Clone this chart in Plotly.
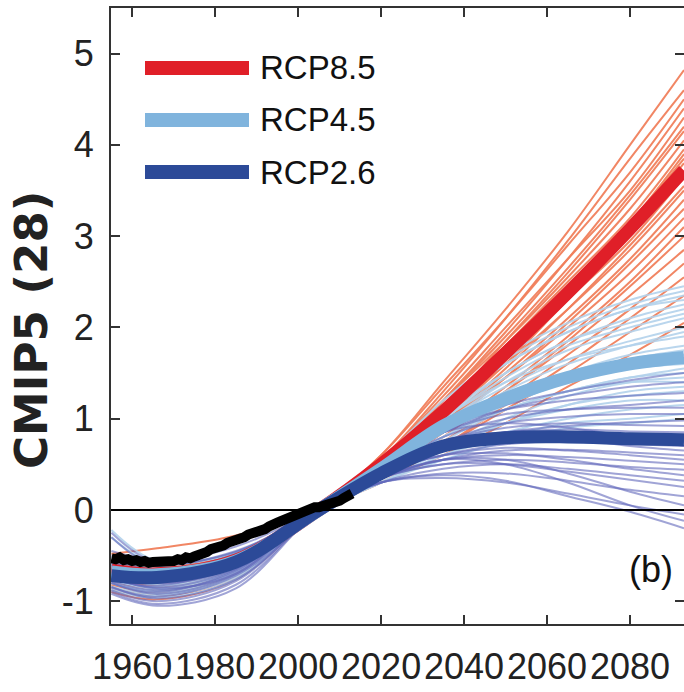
import plotly.graph_objects as go

# ---- time axes -------------------------------------------------------------
HIST_YEARS = [1955, 1966, 1985, 2005]
FUT_YEARS = [2020, 2035, 2050, 2065, 2080, 2093]

# ---- observed record (annual) ---------------------------------------------
OBS_YEARS = list(range(1955, 2014))
OBS_VALUES = [-0.53, -0.54, -0.52, -0.55, -0.54, -0.56, -0.55, -0.57, -0.56, -0.58,
              -0.57, -0.57, -0.56, -0.57, -0.55, -0.56, -0.54, -0.55, -0.52, -0.53,
              -0.51, -0.50, -0.47, -0.46, -0.43, -0.42, -0.40, -0.39, -0.36, -0.35,
              -0.33, -0.31, -0.30, -0.27, -0.26, -0.24, -0.22, -0.21, -0.18, -0.17,
              -0.14, -0.12, -0.10, -0.07, -0.05, -0.03, -0.01, 0.01, 0.02, 0.03,
              0.03, 0.04, 0.05, 0.06, 0.08, 0.10, 0.13, 0.15, 0.18]

# ---- ensemble means --------------------------------------------------------
MEAN85_HIST = [-0.66, -0.70, -0.55, 0.00]
MEAN85_FUT = [0.50, 1.08, 1.72, 2.38, 3.08, 3.72]
MEAN45_HIST = [-0.68, -0.71, -0.56, 0.00]
MEAN45_FUT = [0.45, 0.92, 1.22, 1.45, 1.60, 1.67]
MEAN26_HIST = [-0.72, -0.74, -0.57, 0.00]
MEAN26_FUT = [0.40, 0.70, 0.79, 0.80, 0.78, 0.77]

# ---- individual models: RCP8.5 --------------------------------------------
RCP85_HIST = [
    [-0.48, -0.42, -0.28, 0.02], [-0.60, -0.66, -0.50, 0.00], [-0.70, -0.75, -0.58, 0.02],
    [-0.55, -0.62, -0.48, -0.01], [-0.85, -0.92, -0.70, 0.01], [-0.65, -0.70, -0.55, 0.00],
    [-0.75, -0.82, -0.62, -0.02], [-0.62, -0.68, -0.52, 0.02], [-0.80, -0.88, -0.66, 0.00],
    [-0.58, -0.64, -0.50, 0.01], [-0.72, -0.78, -0.60, -0.01], [-0.68, -0.76, -0.58, 0.02],
    [-0.90, -0.98, -0.76, 0.00], [-0.64, -0.72, -0.56, 0.01], [-0.78, -0.85, -0.64, -0.02],
    [-0.70, -0.74, -0.56, 0.02], [-0.60, -0.70, -0.54, 0.00], [-0.82, -0.90, -0.70, 0.01],
    [-0.66, -0.72, -0.55, -0.01], [-0.74, -0.80, -0.62, 0.00], [-0.56, -0.62, -0.48, 0.02],
    [-0.88, -0.95, -0.74, -0.01], [-0.70, -0.78, -0.60, 0.00], [-0.62, -0.66, -0.50, 0.01],
    [-0.76, -0.84, -0.66, -0.02], [-0.66, -0.74, -0.58, 0.00],
]
RCP85_FUT = [
    [0.60, 1.40, 2.20, 3.05, 4.00, 4.82], [0.55, 1.30, 2.10, 2.95, 3.85, 4.60],
    [0.60, 1.35, 2.10, 2.90, 3.70, 4.50], [0.50, 1.20, 1.95, 2.75, 3.60, 4.40],
    [0.55, 1.25, 2.00, 2.75, 3.50, 4.30], [0.50, 1.20, 1.90, 2.65, 3.45, 4.20],
    [0.45, 1.10, 1.85, 2.60, 3.40, 4.15], [0.55, 1.20, 1.85, 2.55, 3.30, 4.05],
    [0.50, 1.10, 1.80, 2.50, 3.20, 3.95], [0.45, 1.05, 1.75, 2.45, 3.15, 3.90],
    [0.50, 1.15, 1.80, 2.45, 3.15, 3.85], [0.40, 1.00, 1.70, 2.40, 3.10, 3.80],
    [0.50, 1.10, 1.70, 2.35, 3.00, 3.70], [0.45, 1.00, 1.60, 2.30, 2.95, 3.65],
    [0.40, 0.95, 1.55, 2.20, 2.90, 3.55], [0.50, 1.05, 1.60, 2.20, 2.85, 3.50],
    [0.45, 0.95, 1.50, 2.10, 2.75, 3.40], [0.40, 0.90, 1.45, 2.05, 2.70, 3.30],
    [0.45, 0.95, 1.45, 2.00, 2.60, 3.20], [0.40, 0.85, 1.35, 1.90, 2.50, 3.10],
    [0.35, 0.80, 1.30, 1.85, 2.45, 3.00], [0.40, 0.85, 1.30, 1.80, 2.35, 2.85],
    [0.35, 0.75, 1.20, 1.70, 2.20, 2.70], [0.30, 0.70, 1.15, 1.60, 2.10, 2.55],
    [0.35, 0.70, 1.10, 1.50, 1.95, 2.35], [0.30, 0.60, 0.95, 1.35, 1.70, 2.05],
]

# ---- individual models: RCP4.5 --------------------------------------------
RCP45_HIST = [
    [-0.22, -0.56, -0.46, 0.02], [-0.62, -0.68, -0.52, 0.00], [-0.70, -0.78, -0.60, 0.01],
    [-0.55, -0.64, -0.50, -0.02], [-0.80, -0.90, -0.70, 0.01], [-0.66, -0.72, -0.56, 0.00],
    [-0.74, -0.80, -0.62, 0.02], [-0.60, -0.66, -0.52, -0.01], [-0.84, -0.92, -0.72, 0.00],
    [-0.58, -0.66, -0.50, 0.01], [-0.72, -0.76, -0.58, 0.00], [-0.68, -0.74, -0.58, 0.02],
    [-0.88, -0.96, -0.76, -0.01], [-0.64, -0.70, -0.56, 0.01], [-0.76, -0.86, -0.66, 0.00],
    [-0.30, -0.60, -0.50, 0.02], [-0.62, -0.72, -0.56, -0.01], [-0.80, -0.88, -0.68, 0.01],
    [-0.66, -0.74, -0.57, 0.00], [-0.72, -0.82, -0.64, 0.00], [-0.52, -0.60, -0.47, 0.02],
    [-0.86, -0.94, -0.74, -0.01], [-0.70, -0.76, -0.60, 0.01], [-0.60, -0.68, -0.52, 0.00],
    [-0.78, -0.84, -0.66, -0.02], [-0.68, -0.78, -0.60, 0.00],
]
RCP45_FUT = [
    [0.55, 1.20, 1.70, 2.05, 2.30, 2.45], [0.50, 1.15, 1.65, 2.00, 2.25, 2.40],
    [0.55, 1.10, 1.60, 1.95, 2.20, 2.35], [0.50, 1.10, 1.60, 1.95, 2.20, 2.30],
    [0.45, 1.00, 1.50, 1.85, 2.10, 2.25], [0.50, 1.05, 1.50, 1.85, 2.05, 2.20],
    [0.50, 1.00, 1.45, 1.80, 2.00, 2.15], [0.45, 0.95, 1.40, 1.75, 1.95, 2.10],
    [0.45, 0.95, 1.35, 1.65, 1.85, 2.00], [0.40, 0.90, 1.30, 1.60, 1.80, 1.95],
    [0.50, 1.00, 1.40, 1.65, 1.80, 1.90], [0.45, 0.90, 1.25, 1.50, 1.70, 1.80],
    [0.40, 0.85, 1.20, 1.45, 1.65, 1.75], [0.45, 0.90, 1.20, 1.45, 1.60, 1.70],
    [0.40, 0.80, 1.15, 1.40, 1.55, 1.65], [0.40, 0.85, 1.15, 1.40, 1.55, 1.60],
    [0.35, 0.75, 1.10, 1.30, 1.45, 1.55], [0.40, 0.80, 1.10, 1.30, 1.45, 1.50],
    [0.35, 0.70, 1.00, 1.25, 1.40, 1.45], [0.40, 0.80, 1.10, 1.30, 1.40, 1.40],
    [0.35, 0.70, 0.95, 1.15, 1.30, 1.35], [0.30, 0.65, 0.95, 1.15, 1.25, 1.30],
    [0.35, 0.70, 0.95, 1.10, 1.20, 1.20], [0.30, 0.60, 0.85, 1.00, 1.10, 1.15],
    [0.30, 0.60, 0.80, 0.95, 1.00, 1.05], [0.30, 0.55, 0.75, 0.90, 0.95, 1.00],
]

# ---- individual models: RCP2.6 --------------------------------------------
RCP26_HIST = [
    [-0.25, -0.58, -0.45, 0.02], [-0.30, -0.62, -0.50, -0.02], [-0.45, -0.55, -0.40, 0.03],
    [-0.55, -0.65, -0.50, 0.00], [-0.60, -0.70, -0.55, 0.02], [-0.65, -0.72, -0.58, -0.03],
    [-0.70, -0.78, -0.60, 0.01], [-0.72, -0.80, -0.62, 0.00], [-0.75, -0.85, -0.65, -0.02],
    [-0.78, -0.88, -0.68, 0.02], [-0.80, -0.92, -0.70, 0.00], [-0.85, -0.95, -0.72, -0.03],
    [-0.88, -1.00, -0.78, 0.01], [-0.90, -1.03, -0.82, -0.01], [-0.70, -0.75, -0.55, 0.03],
    [-0.62, -0.68, -0.52, -0.01], [-0.58, -0.66, -0.48, 0.02], [-0.80, -0.90, -0.66, 0.00],
    [-0.68, -0.80, -0.64, -0.02], [-0.50, -0.60, -0.46, 0.01], [-0.76, -0.83, -0.60, 0.02],
    [-0.84, -0.97, -0.76, -0.02], [-0.66, -0.76, -0.57, 0.00], [-0.73, -0.86, -0.70, 0.03],
    [-0.92, -1.05, -0.86, -0.01], [-0.56, -0.72, -0.58, 0.00],
]
RCP26_FUT = [
    [0.50, 0.90, 1.15, 1.30, 1.42, 1.50], [0.45, 0.85, 1.10, 1.25, 1.35, 1.40],
    [0.50, 0.90, 1.10, 1.20, 1.25, 1.28], [0.45, 0.80, 1.00, 1.10, 1.15, 1.20],
    [0.50, 0.85, 1.05, 1.10, 1.12, 1.12], [0.45, 0.75, 0.95, 1.02, 1.05, 1.05],
    [0.40, 0.70, 0.85, 0.92, 0.96, 0.98], [0.45, 0.75, 0.90, 0.95, 0.93, 0.92],
    [0.40, 0.70, 0.85, 0.88, 0.86, 0.85], [0.45, 0.75, 0.85, 0.85, 0.82, 0.80],
    [0.40, 0.65, 0.75, 0.78, 0.77, 0.75], [0.40, 0.60, 0.72, 0.75, 0.72, 0.70],
    [0.45, 0.70, 0.80, 0.78, 0.70, 0.65], [0.35, 0.55, 0.65, 0.66, 0.63, 0.60],
    [0.40, 0.60, 0.68, 0.65, 0.60, 0.55], [0.35, 0.55, 0.60, 0.58, 0.54, 0.50],
    [0.35, 0.50, 0.55, 0.52, 0.47, 0.44], [0.40, 0.60, 0.62, 0.55, 0.45, 0.38],
    [0.30, 0.45, 0.50, 0.45, 0.38, 0.32], [0.35, 0.50, 0.50, 0.42, 0.33, 0.25],
    [0.30, 0.40, 0.40, 0.32, 0.22, 0.15], [0.35, 0.55, 0.55, 0.40, 0.20, 0.05],
    [0.30, 0.35, 0.30, 0.18, 0.05, -0.05], [0.35, 0.55, 0.50, 0.30, 0.05, -0.12],
    [0.30, 0.38, 0.32, 0.15, -0.02, -0.20], [0.50, 0.85, 0.95, 0.90, 0.80, 0.70],
]

# ---- axis ticks and labels -------------------------------------------------
XTICK_VALS = [1960, 1980, 2000, 2020, 2040, 2060, 2080]
XTICK_TEXT = ["1960", "1980", "2000", "2020", "2040", "2060", "2080"]
YTICK_VALS = [-1, 0, 1, 2, 3, 4, 5]
YTICK_TEXT = ["-1", "0", "1", "2", "3", "4", "5"]

SCENARIO_NAMES = ["RCP8.5", "RCP4.5", "RCP2.6"]
SCENARIO_MEAN_COLORS = ["#E01F28", "#80B4DD", "#2C4A98"]
SCENARIO_THIN_COLORS = ["rgba(240,128,92,0.95)", "rgba(178,210,235,0.9)",
                        "rgba(96,104,186,0.6)"]

YEARS = HIST_YEARS + FUT_YEARS
X_RANGE = [1954.9, 2093.0]
Y_RANGE = [-1.25, 5.5]

TEXT_FONT = "Liberation Sans, Arial, sans-serif"

fig = go.Figure()

ensembles = [(RCP85_HIST, RCP85_FUT), (RCP45_HIST, RCP45_FUT), (RCP26_HIST, RCP26_FUT)]
for (hist, fut), color in zip(ensembles, SCENARIO_THIN_COLORS):
    for h, f in zip(hist, fut):
        fig.add_trace(go.Scatter(
            x=YEARS, y=h + f, mode="lines",
            line=dict(color=color, width=2, shape="spline", smoothing=1.0),
            hoverinfo="skip", showlegend=False))

means = [(MEAN85_HIST, MEAN85_FUT), (MEAN45_HIST, MEAN45_FUT), (MEAN26_HIST, MEAN26_FUT)]
for (h, f), color, name in zip(means, SCENARIO_MEAN_COLORS, SCENARIO_NAMES):
    fig.add_trace(go.Scatter(
        x=YEARS, y=h + f, mode="lines", name=name,
        line=dict(color=color, width=13, shape="spline", smoothing=1.0),
        showlegend=False))

fig.add_trace(go.Scatter(
    x=OBS_YEARS, y=OBS_VALUES, mode="lines", name="Observed",
    line=dict(color="black", width=10), showlegend=False))

# zero reference line across the panel
fig.add_shape(type="line", xref="paper", x0=0, x1=1, yref="y", y0=0, y1=0,
              line=dict(color="black", width=2), layer="above")

# hand-drawn legend with long swatches
W, H = 684, 692
ML, MR, MT, MB = 111, 0, 8, 68
PW, PH = W - ML - MR, H - MT - MB


def px_x(px):
    return (px - ML) / PW


def px_y(py):
    return (H - MB - py) / PH


legend_rows = [68, 120, 172]
for row, name, color in zip(legend_rows, SCENARIO_NAMES, SCENARIO_MEAN_COLORS):
    fig.add_shape(type="line", xref="paper", yref="paper",
                  x0=px_x(145), x1=px_x(249), y0=px_y(row), y1=px_y(row),
                  line=dict(color=color, width=14), layer="above")
    fig.add_annotation(xref="paper", yref="paper", x=px_x(258), y=px_y(row),
                       xanchor="left", yanchor="middle", text=name, showarrow=False,
                       font=dict(family=TEXT_FONT, size=33, color="#111"))

fig.add_annotation(xref="paper", yref="paper", x=px_x(651), y=px_y(569),
                   xanchor="center", yanchor="middle", text="(b)", showarrow=False,
                   font=dict(family=TEXT_FONT, size=36, color="#111"))

fig.add_annotation(xref="paper", yref="paper", x=px_x(31), y=px_y(330),
                   xanchor="center", yanchor="middle", text="<b>CMIP5 (28)</b>",
                   textangle=-90, showarrow=False,
                   font=dict(family="DejaVu Sans", size=45, color="#222"))

tick_font = dict(family=TEXT_FONT, size=36, color="#222")

fig.update_xaxes(range=X_RANGE, tickvals=XTICK_VALS, ticktext=XTICK_TEXT,
                 ticks="inside", ticklen=9, tickwidth=2, tickcolor="#333",
                 showline=True, linecolor="#333", linewidth=2, mirror="ticks",
                 showgrid=False, zeroline=False, tickfont=tick_font,
                 tickangle=0, automargin=False, ticklabelstandoff=10)
fig.update_yaxes(range=Y_RANGE, tickvals=YTICK_VALS, ticktext=YTICK_TEXT,
                 ticks="inside", ticklen=9, tickwidth=2, tickcolor="#333",
                 showline=True, linecolor="#333", linewidth=2, mirror="ticks",
                 showgrid=False, zeroline=False, tickfont=tick_font,
                 automargin=False, ticklabelstandoff=8)

fig.update_layout(width=W, height=H, margin=dict(l=ML, r=MR, t=MT, b=MB),
                  paper_bgcolor="white", plot_bgcolor="white", showlegend=False)

fig.write_html("out.html")
